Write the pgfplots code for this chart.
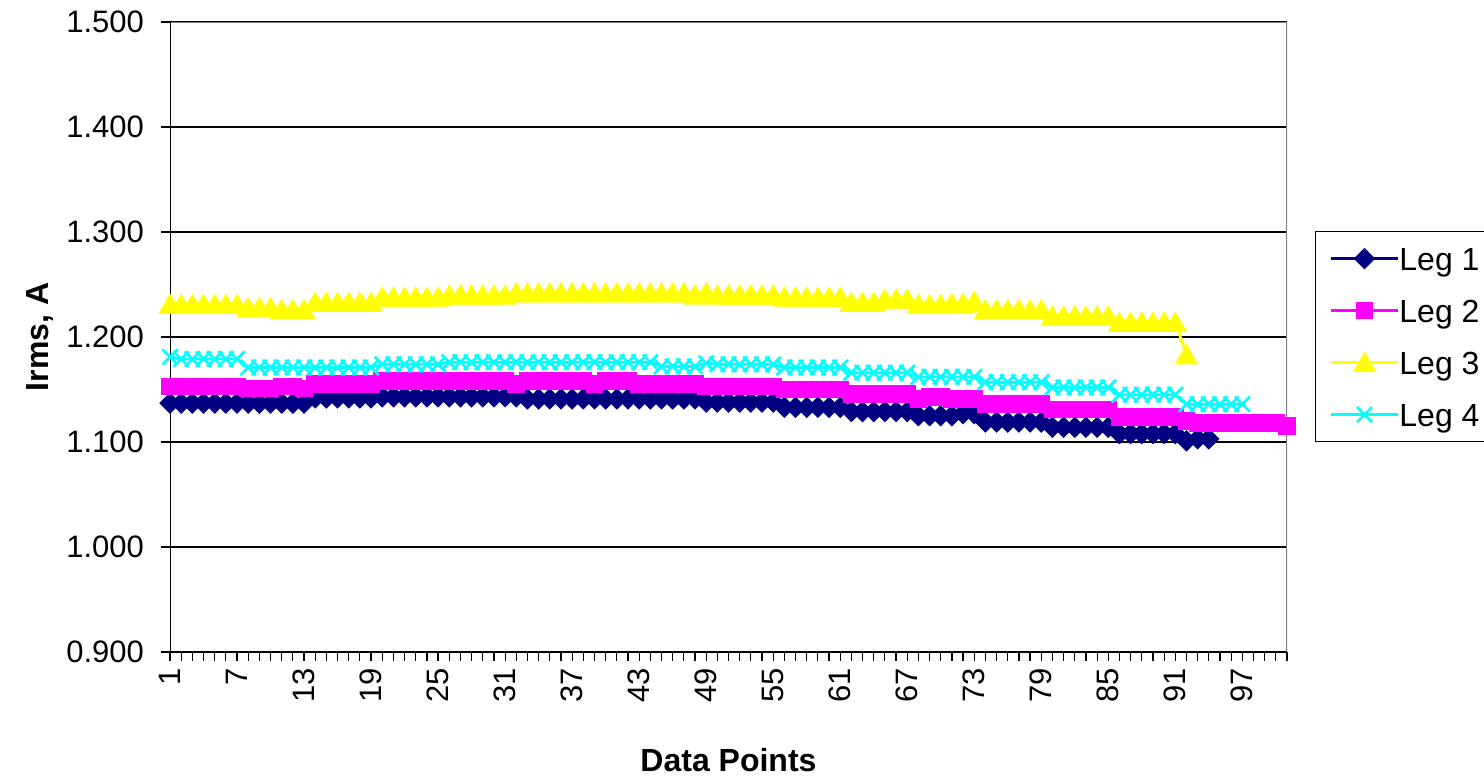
\documentclass[border=0pt]{standalone}
\usepackage{fontspec}
\setmainfont{Liberation Sans}
\usepackage{pgfplots}
\pgfplotsset{compat=1.18}
\definecolor{legone}{RGB}{0,0,128}
\definecolor{legtwo}{RGB}{255,0,255}
\definecolor{legthree}{RGB}{255,255,0}
\definecolor{legfour}{RGB}{0,255,255}
\definecolor{frame}{RGB}{128,128,128}

\begin{document}
\begin{tikzpicture}
\begin{axis}[
  at={(85pt,62.5pt)}, anchor=south west,
  scale only axis, width=558.5pt, height=315pt,
  xmin=1, xmax=101, ymin=0.9, ymax=1.5,
  axis line style={draw=none},
  xtick={1,7,...,97}, minor xtick={1,...,101},
  ytick={0.9,1,1.1,1.2,1.3,1.4,1.5},
  tick align=outside, xtick pos=bottom, ytick pos=left,
  major tick length=4.5pt, minor tick length=4.5pt,
  tick style={black, line width=0.6pt},
  ymajorgrids, grid style={black, line width=0.6pt},
  /pgf/number format/assume math mode=true,
  yticklabel style={/pgf/number format/.cd, fixed, fixed zerofill, precision=3, /tikz/.cd,
    font=\fontsize{15.5}{18}\selectfont, xshift=-5pt},
  xticklabel style={rotate=90, anchor=east, font=\fontsize{15.5}{18}\selectfont},
  xlabel={\bfseries Data Points},
  ylabel={\bfseries Irms, A},
  every axis x label/.style={at={(axis description cs:0.5,-0.171)}, anchor=center,
    font=\fontsize{16}{19}\selectfont},
  every axis y label/.style={at={(axis description cs:-0.116,0.5)}, rotate=90, anchor=center,
    font=\fontsize{16}{19}\selectfont},
  legend style={at={(axis description cs:1.0251,0.6683)}, anchor=north west,
    draw=black, line width=0.6pt, fill=white,
    font=\fontsize{16}{19}\selectfont,
    inner xsep=7pt, inner ysep=6pt, row sep=11pt,
    nodes={inner sep=0pt, text height=13.5pt, text depth=1.5pt},
    /tikz/every even column/.append style={column sep=8pt}},
  legend cell align=left,
  legend image code/.code={\draw[mark repeat=2, mark phase=2] plot coordinates {(0pt,0pt) (16.75pt,0pt) (33.5pt,0pt)};},
]
% plot area frame: black axes left and bottom, grey border right
\draw[frame, line width=0.6pt] (rel axis cs:1,0) -- (rel axis cs:1,1) -- (rel axis cs:0,1);
\draw[black, line width=0.7pt] (rel axis cs:0,1) -- (rel axis cs:0,0) -- (rel axis cs:1,0);

\addplot[color=legone, line width=1.4pt, mark=square*, mark size=3.1pt,
  mark options={rotate=45, solid, fill=legone}] coordinates {
(1,1.137)(2,1.137)(3,1.137)(4,1.137)(5,1.137)(6,1.137)(7,1.137)(8,1.137)(9,1.137)(10,1.137)
(11,1.137)(12,1.137)(13,1.137)(14,1.142)(15,1.142)(16,1.142)(17,1.142)(18,1.142)(19,1.142)(20,1.143)
(21,1.143)(22,1.143)(23,1.143)(24,1.143)(25,1.143)(26,1.143)(27,1.143)(28,1.143)(29,1.143)(30,1.143)
(31,1.143)(32,1.143)(33,1.141)(34,1.141)(35,1.141)(36,1.141)(37,1.141)(38,1.141)(39,1.141)(40,1.141)
(41,1.141)(42,1.141)(43,1.141)(44,1.141)(45,1.141)(46,1.141)(47,1.141)(48,1.141)(49,1.138)(50,1.138)
(51,1.138)(52,1.138)(53,1.138)(54,1.138)(55,1.138)(56,1.133)(57,1.133)(58,1.133)(59,1.133)(60,1.133)
(61,1.133)(62,1.129)(63,1.129)(64,1.129)(65,1.129)(66,1.129)(67,1.129)(68,1.125)(69,1.125)(70,1.125)
(71,1.125)(72,1.127)(73,1.127)(74,1.119)(75,1.119)(76,1.119)(77,1.119)(78,1.119)(79,1.119)(80,1.114)
(81,1.114)(82,1.114)(83,1.114)(84,1.114)(85,1.114)(86,1.108)(87,1.108)(88,1.108)(89,1.108)(90,1.108)
(91,1.108)(92,1.101)(93,1.103)(94,1.103)
};
\addlegendentry{Leg 1}

\addplot[color=legtwo, line width=1.4pt, mark=square*, mark size=3.7pt,
  mark options={solid, fill=legtwo}] coordinates {
(1,1.153)(2,1.153)(3,1.153)(4,1.153)(5,1.153)(6,1.153)(7,1.153)(8,1.151)(9,1.151)(10,1.151)
(11,1.153)(12,1.153)(13,1.151)(14,1.155)(15,1.155)(16,1.155)(17,1.155)(18,1.155)(19,1.155)(20,1.158)
(21,1.158)(22,1.158)(23,1.158)(24,1.158)(25,1.158)(26,1.158)(27,1.158)(28,1.158)(29,1.158)(30,1.158)
(31,1.158)(32,1.155)(33,1.158)(34,1.158)(35,1.158)(36,1.158)(37,1.158)(38,1.158)(39,1.155)(40,1.158)
(41,1.158)(42,1.158)(43,1.155)(44,1.155)(45,1.155)(46,1.155)(47,1.155)(48,1.155)(49,1.153)(50,1.153)
(51,1.153)(52,1.153)(53,1.153)(54,1.153)(55,1.153)(56,1.150)(57,1.150)(58,1.150)(59,1.150)(60,1.150)
(61,1.150)(62,1.146)(63,1.146)(64,1.146)(65,1.146)(66,1.146)(67,1.146)(68,1.141)(69,1.143)(70,1.143)
(71,1.141)(72,1.141)(73,1.141)(74,1.136)(75,1.136)(76,1.136)(77,1.136)(78,1.136)(79,1.136)(80,1.131)
(81,1.131)(82,1.131)(83,1.131)(84,1.131)(85,1.131)(86,1.124)(87,1.124)(88,1.124)(89,1.124)(90,1.124)
(91,1.124)(92,1.120)(93,1.118)(94,1.118)(95,1.118)(96,1.118)(97,1.118)(98,1.118)(99,1.118)(100,1.118)
(101,1.115)
};
\addlegendentry{Leg 2}

\addplot[color=legthree, line width=1.4pt, mark=triangle*, mark size=5.4pt,
  mark options={solid, fill=legthree, yshift=-1.35pt}] coordinates {
(1,1.231)(2,1.231)(3,1.231)(4,1.231)(5,1.231)(6,1.231)(7,1.231)(8,1.228)(9,1.228)(10,1.228)
(11,1.226)(12,1.226)(13,1.226)(14,1.233)(15,1.233)(16,1.233)(17,1.233)(18,1.233)(19,1.233)(20,1.238)
(21,1.238)(22,1.238)(23,1.238)(24,1.238)(25,1.238)(26,1.240)(27,1.240)(28,1.240)(29,1.240)(30,1.240)
(31,1.240)(32,1.242)(33,1.242)(34,1.242)(35,1.242)(36,1.242)(37,1.242)(38,1.242)(39,1.242)(40,1.242)
(41,1.242)(42,1.242)(43,1.242)(44,1.242)(45,1.242)(46,1.242)(47,1.242)(48,1.240)(49,1.242)(50,1.240)
(51,1.240)(52,1.240)(53,1.240)(54,1.240)(55,1.240)(56,1.238)(57,1.238)(58,1.238)(59,1.238)(60,1.238)
(61,1.238)(62,1.233)(63,1.233)(64,1.233)(65,1.236)(66,1.236)(67,1.236)(68,1.231)(69,1.231)(70,1.231)
(71,1.232)(72,1.232)(73,1.234)(74,1.226)(75,1.226)(76,1.226)(77,1.226)(78,1.226)(79,1.226)(80,1.220)
(81,1.220)(82,1.220)(83,1.220)(84,1.220)(85,1.220)(86,1.214)(87,1.214)(88,1.214)(89,1.214)(90,1.214)
(91,1.214)(92,1.183)
};
\addlegendentry{Leg 3}

\addplot[color=legfour, line width=1.4pt, mark=x, mark size=5.4pt,
  mark options={solid, line width=1.3pt}] coordinates {
(1,1.181)(2,1.179)(3,1.179)(4,1.179)(5,1.179)(6,1.179)(7,1.179)(8,1.171)(9,1.171)(10,1.171)
(11,1.171)(12,1.171)(13,1.171)(14,1.171)(15,1.171)(16,1.171)(17,1.171)(18,1.171)(19,1.171)(20,1.174)
(21,1.174)(22,1.174)(23,1.174)(24,1.174)(25,1.174)(26,1.176)(27,1.176)(28,1.176)(29,1.176)(30,1.176)
(31,1.176)(32,1.176)(33,1.176)(34,1.176)(35,1.176)(36,1.176)(37,1.176)(38,1.176)(39,1.176)(40,1.176)
(41,1.176)(42,1.176)(43,1.176)(44,1.176)(45,1.172)(46,1.172)(47,1.172)(48,1.172)(49,1.175)(50,1.174)
(51,1.174)(52,1.174)(53,1.174)(54,1.174)(55,1.174)(56,1.171)(57,1.171)(58,1.171)(59,1.171)(60,1.171)
(61,1.171)(62,1.166)(63,1.166)(64,1.166)(65,1.166)(66,1.166)(67,1.166)(68,1.162)(69,1.162)(70,1.162)
(71,1.162)(72,1.162)(73,1.162)(74,1.157)(75,1.157)(76,1.157)(77,1.157)(78,1.157)(79,1.157)(80,1.152)
(81,1.152)(82,1.152)(83,1.152)(84,1.152)(85,1.152)(86,1.145)(87,1.145)(88,1.145)(89,1.145)(90,1.145)
(91,1.145)(92,1.136)(93,1.136)(94,1.136)(95,1.136)(96,1.136)(97,1.136)
};
\addlegendentry{Leg 4}
\end{axis}
\pgfresetboundingbox
\path[use as bounding box] (0,0) rectangle (742pt,388.5pt);
\end{tikzpicture}
\end{document}
